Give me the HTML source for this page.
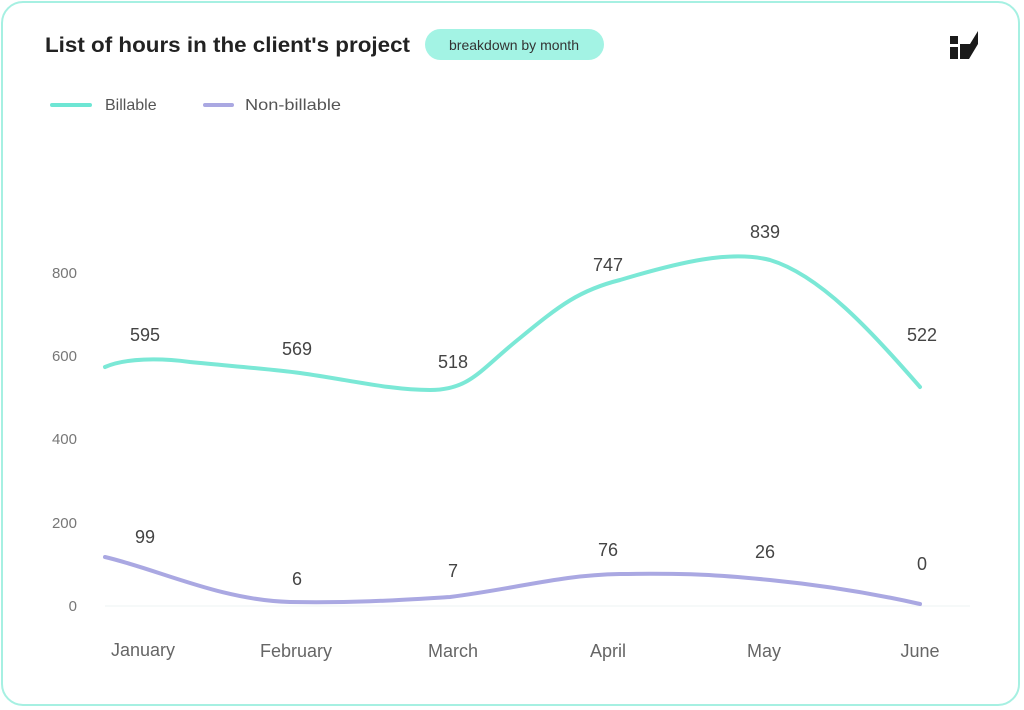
<!DOCTYPE html>
<html><head><style>
body{margin:0;background:#fff;width:1024px;height:710px;overflow:hidden;font-family:"Liberation Sans",sans-serif}
.card{position:absolute;left:1px;top:1px;width:1019px;height:705px;border:2px solid #a6f0e2;border-radius:22px;box-sizing:border-box}
</style></head><body>
<div class="card"></div>
<svg width="1024" height="710" style="position:absolute;left:0;top:0" font-family="Liberation Sans, sans-serif">
<text x="45" y="52" font-size="21" font-weight="bold" fill="#222" textLength="365" lengthAdjust="spacingAndGlyphs">List of hours in the client's project</text>
<rect x="425" y="29" width="179" height="31" rx="15.5" fill="#a3f3e4"/>
<text x="514" y="50" font-size="14" fill="#333" text-anchor="middle">breakdown by month</text>
<g fill="#1a1a1a">
<rect x="950" y="36" width="8" height="8"/>
<rect x="950" y="47" width="8" height="12"/>
<path d="M960 44 L970 44 L978 31 L978 44 L969 59 L960 59 Z"/>
</g>
<line x1="52" y1="105" x2="90" y2="105" stroke="#6ee6d4" stroke-width="4" stroke-linecap="round"/>
<text x="105" y="110" font-size="16" fill="#555">Billable</text>
<line x1="205" y1="105" x2="232" y2="105" stroke="#aaa8e2" stroke-width="4" stroke-linecap="round"/>
<text x="245" y="110" font-size="16" fill="#555" textLength="96" lengthAdjust="spacingAndGlyphs">Non-billable</text>
<g font-size="15" fill="#777" text-anchor="end">
<text x="77" y="278">800</text><text x="77" y="361">600</text><text x="77" y="444">400</text><text x="77" y="528">200</text><text x="77" y="611">0</text>
</g>
<line x1="105" y1="606" x2="970" y2="606" stroke="#eef3f3" stroke-width="1"/>
<g font-size="18" fill="#666" text-anchor="middle">
<text x="143" y="656">January</text><text x="296" y="657">February</text><text x="453" y="657">March</text><text x="608" y="657">April</text><text x="764" y="657">May</text><text x="920" y="657">June</text>
</g>
<path d="M105 367 C125 358,160 358,190 362 C230 366,270 369,300 373 C350 380,390 390,430 390 C470 390,480 370,520 338 C560 305,580 290,620 280 C680 262,730 250,770 260 C820 275,870 330,920 387" fill="none" stroke="#7be8d6" stroke-width="4" stroke-linecap="round"/>
<path d="M105 557 C160 570,220 600,290 602 C360 603,400 600,450 597 C520 588,560 575,620 574 C690 573,720 575,770 580 C830 586,880 595,920 604" fill="none" stroke="#aaa8e2" stroke-width="4" stroke-linecap="round"/>
<g font-size="18" fill="#444" text-anchor="middle">
<text x="145" y="341">595</text><text x="297" y="355">569</text><text x="453" y="368">518</text><text x="608" y="271">747</text><text x="765" y="238">839</text><text x="922" y="341">522</text>
<text x="145" y="543">99</text><text x="297" y="585">6</text><text x="453" y="577">7</text><text x="608" y="556">76</text><text x="765" y="558">26</text><text x="922" y="570">0</text>
</g>
</svg>
</body></html>
